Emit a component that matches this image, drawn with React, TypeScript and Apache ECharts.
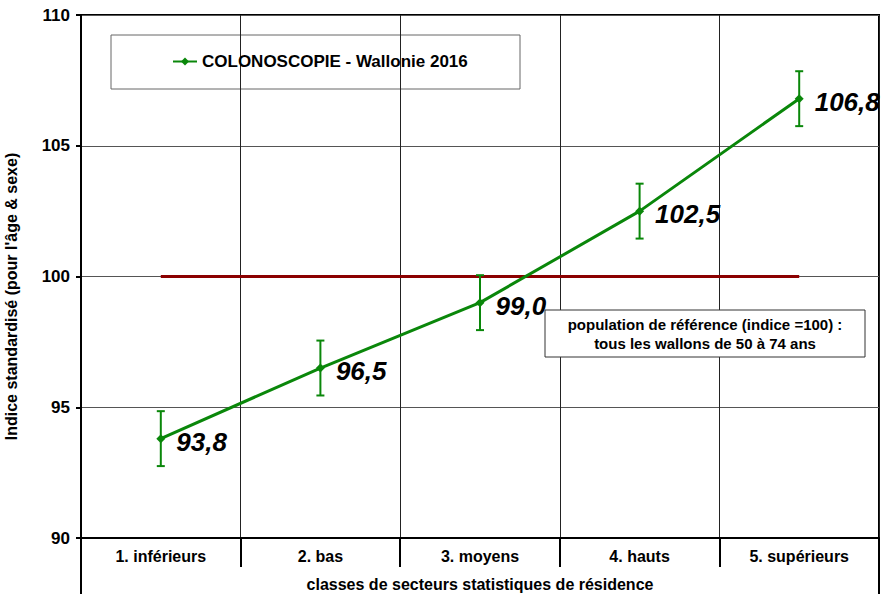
import React, { useEffect, useRef } from "react";
import * as echarts from "echarts";

const categories = ["1. inférieurs", "2. bas", "3. moyens", "4. hauts", "5. supérieurs"];
const values = [93.8, 96.5, 99.0, 102.5, 106.8];
const lower = [92.75, 95.45, 97.95, 101.45, 105.75];
const upper = [94.85, 97.55, 100.05, 103.55, 107.85];
const reference = [100, 100, 100, 100, 100];
const seriesName = "COLONOSCOPIE - Wallonie 2016";
const yTicks = { min: 90, max: 110, interval: 5 };
const noteLines = ["population de référence (indice =100) :", "tous les wallons de 50 à 74 ans"];

const FONT = "Arial, 'Liberation Sans', sans-serif";
const GREEN = "#0a870a";

export default function App() {
  const ref = useRef<HTMLDivElement>(null);
  useEffect(() => {
    if (!ref.current) return;
    const chart = echarts.init(ref.current, null, { renderer: "svg" });
    const errData = categories.map((_, i) => [i, lower[i], upper[i]]);
    chart.setOption({
      animation: false,
      textStyle: { fontFamily: FONT },
      grid: {
        left: 81,
        top: 15,
        right: 3,
        bottom: 56,
        show: true,
        borderColor: "#000",
        borderWidth: 2,
        outerBoundsMode: "none",
        containLabel: false,
      },
      legend: {
        left: 172,
        top: 53,
        padding: 0,
        itemWidth: 24,
        itemHeight: 10,
        itemGap: 4,
        data: [seriesName],
        textStyle: { fontSize: 17, fontWeight: "bold", color: "#000", fontFamily: FONT },
      },
      xAxis: {
        type: "category",
        data: categories,
        boundaryGap: true,
        axisLine: { lineStyle: { color: "#000", width: 2 } },
        axisTick: { show: true, length: 29, interval: 0, lineStyle: { color: "#000", width: 2 } },
        axisLabel: { interval: 0, margin: 10, fontSize: 16, fontWeight: "bold", color: "#000", fontFamily: FONT },
        splitLine: { show: true, interval: 0, lineStyle: { color: "#222", width: 1 } },
        name: "classes de secteurs statistiques de résidence",
        nameLocation: "middle",
        nameGap: 38,
        nameTextStyle: { fontSize: 16, fontWeight: "bold", color: "#000", fontFamily: FONT },
      },
      yAxis: {
        type: "value",
        min: yTicks.min,
        max: yTicks.max,
        interval: yTicks.interval,
        axisLine: { show: true, lineStyle: { color: "#000", width: 2 } },
        axisTick: { show: true, length: 5, lineStyle: { color: "#000", width: 2 } },
        axisLabel: { margin: 11, fontSize: 17, fontWeight: "bold", color: "#000", fontFamily: FONT },
        splitLine: { show: true, lineStyle: { color: "#555", width: 1 } },
        name: "Indice standardisé (pour l'âge & sexe)",
        nameLocation: "middle",
        nameRotate: 90,
        nameGap: 62,
        nameTextStyle: { fontSize: 16, fontWeight: "bold", color: "#000", fontFamily: FONT, padding: [0, 40, 0, 0] },
      },
      series: [
        {
          name: "ref",
          type: "line",
          data: reference,
          symbol: "none",
          lineStyle: { color: "#8b0000", width: 3 },
          z: 2,
          silent: true,
        },
        {
          name: "err",
          type: "custom",
          data: errData,
          encode: { x: 0, y: [1, 2] },
          z: 3,
          renderItem: (params: any, api: any) => {
            const x = api.value(0);
            const lo = api.coord([x, api.value(1)]);
            const hi = api.coord([x, api.value(2)]);
            const cap = 4;
            const style = { stroke: GREEN, lineWidth: 2 };
            return {
              type: "group",
              children: [
                { type: "line", shape: { x1: lo[0], y1: lo[1], x2: hi[0], y2: hi[1] }, style },
                { type: "line", shape: { x1: lo[0] - cap, y1: lo[1], x2: lo[0] + cap, y2: lo[1] }, style },
                { type: "line", shape: { x1: hi[0] - cap, y1: hi[1], x2: hi[0] + cap, y2: hi[1] }, style },
              ],
            };
          },
        },
        {
          name: seriesName,
          type: "line",
          data: values,
          symbol: "diamond",
          symbolSize: 9,
          itemStyle: { color: GREEN },
          lineStyle: { color: GREEN, width: 3 },
          z: 4,
          label: {
            show: true,
            position: "right",
            distance: 11,
            offset: [0, 3],
            fontSize: 26,
            fontWeight: "bold",
            fontStyle: "italic",
            color: "#000",
            fontFamily: FONT,
            formatter: (p: any) => p.value.toFixed(1).replace(".", ","),
          },
        },
      ],
      graphic: [
        {
          type: "rect",
          shape: { x: 111, y: 35, width: 409, height: 54 },
          style: { fill: "#fff", stroke: "#666", lineWidth: 1 },
          z: 0,
        },
        {
          type: "rect",
          shape: { x: 545, y: 310, width: 320, height: 47 },
          style: { fill: "#fff", stroke: "#333", lineWidth: 1 },
          z: 10,
        },
        {
          type: "text",
          x: 705,
          y: 334,
          z: 11,
          style: {
            text: noteLines.join("\n"),
            align: "center",
            verticalAlign: "middle",
            fontSize: 15,
            fontWeight: "bold",
            lineHeight: 19,
            fill: "#000",
            fontFamily: FONT,
          },
        },
        {
          type: "line",
          shape: { x1: 81, y1: 538, x2: 81, y2: 594 },
          style: { stroke: "#000", lineWidth: 2 },
        },
        {
          type: "line",
          shape: { x1: 879, y1: 538, x2: 879, y2: 594 },
          style: { stroke: "#000", lineWidth: 2 },
        },
      ],
    });
    return () => chart.dispose();
  }, []);
  return <div ref={ref} style={{ width: 882, height: 594, position: "absolute", left: 0, top: 0 }} />;
}
